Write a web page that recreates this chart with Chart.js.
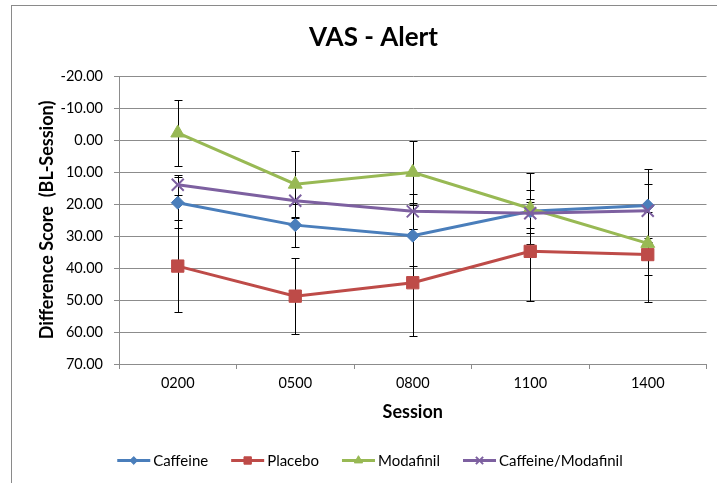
<!DOCTYPE html>
<html><head><meta charset="utf-8">
<script src="https://cdn.jsdelivr.net/npm/chart.js@4/dist/chart.umd.min.js"></script>
<style>html,body{margin:0;padding:0;background:#fff;overflow:hidden}#wrap{position:absolute;left:0;top:0;width:717px;height:483px}</style>
</head><body><div id="wrap"><canvas id="c" width="717" height="483"></canvas></div>
<script>
const sessions = ['0200', '0500', '0800', '1100', '1400'];
const caffeine = [19.6, 26.6, 29.9, 22.3, 20.5];
const caffeineErr = [8.0, 6.7, 9.6, 6.8, 11.4];
const placebo = [39.4, 48.8, 44.6, 34.8, 35.8];
const placeboErr = [14.5, 11.9, 16.7, 15.4, 14.8];
const modafinil = [-2.2, 13.8, 10.1, 21.4, 32.3];
const modafinilErr = [10.3, 10.5, 9.7, 11.1, 9.9];
const cafMod = [14.0, 19.0, 22.3, 22.9, 22.1];
const cafModErr = [3.2, 5.1, 5.4, 4.5, 8.5];
const yTicks = [-20, -10, 0, 10, 20, 30, 40, 50, 60, 70];

const errs = [caffeineErr, placeboErr, modafinilErr, cafModErr];
const GRID = '#8c8c8c';
const FONT = 'Lato';

function marker(ctx, style, x, y, r, color, bw) {
  ctx.save();
  ctx.fillStyle = color; ctx.strokeStyle = color; ctx.lineWidth = bw;
  if (Chart.helpers && Chart.helpers.drawPoint) {
    Chart.helpers.drawPoint(ctx, {pointStyle: style, radius: r, rotation: 0, borderWidth: bw}, x, y);
  }
  ctx.restore();
}

const framePlugin = {
  id: 'frame',
  beforeDraw(chart) {
    const ctx = chart.ctx;
    ctx.save();
    ctx.fillStyle = '#fff';
    ctx.fillRect(0, 0, chart.width, chart.height);
    ctx.strokeStyle = '#8a8a8a';
    ctx.lineWidth = 1;
    ctx.strokeRect(11.5, 5.5, 760, 520);
    ctx.restore();
  }
};

const errorBarPlugin = {
  id: 'errbars',
  beforeDatasetsDraw(chart) {
    const ctx = chart.ctx, ys = chart.scales.y;
    ctx.save();
    ctx.strokeStyle = '#000';
    ctx.lineWidth = 1;
    chart.data.datasets.forEach((ds, i) => {
      const meta = chart.getDatasetMeta(i);
      ds.data.forEach((v, j) => {
        const e = errs[i][j];
        const x = Math.round(meta.data[j].x) + 0.5;
        const y1 = Math.round(ys.getPixelForValue(v - e)) + 0.5;
        const y2 = Math.round(ys.getPixelForValue(v + e)) + 0.5;
        ctx.beginPath();
        ctx.moveTo(x, y1); ctx.lineTo(x, y2);
        ctx.moveTo(x - 4, y1); ctx.lineTo(x + 4, y1);
        ctx.moveTo(x - 4, y2); ctx.lineTo(x + 4, y2);
        ctx.stroke();
      });
    });
    ctx.restore();
  }
};

const legendPlugin = {
  id: 'xlLegend',
  afterDraw(chart) {
    const ctx = chart.ctx;
    ctx.save();
    ctx.font = '15px ' + FONT;
    const lineLen = 33, textGap = 3, itemGap = 23;
    const items = chart.data.datasets.map(ds => ({ds, w: lineLen + textGap + ctx.measureText(ds.label).width}));
    const total = items.reduce((s, it) => s + it.w, 0) + itemGap * (items.length - 1);
    let x = 370 - total / 2;
    const y = 460.5;
    items.forEach(it => {
      const ds = it.ds;
      ctx.strokeStyle = ds.borderColor;
      ctx.lineWidth = 3;
      ctx.beginPath(); ctx.moveTo(x, y); ctx.lineTo(x + lineLen, y); ctx.stroke();
      marker(ctx, ds.pointStyle, x + lineLen / 2, y, ds.pointRadius * 0.6, ds.borderColor, ds.pointBorderWidth);
      ctx.fillStyle = '#000';
      ctx.textBaseline = 'middle';
      ctx.textAlign = 'left';
      ctx.fillText(ds.label, x + lineLen + textGap, y + 1);
      x += it.w + itemGap;
    });
    ctx.restore();
  }
};

function mk(label, data, color, style, r, bw, order) {
  return {label, data, borderColor: color, backgroundColor: color, pointBackgroundColor: color,
    pointBorderColor: color, pointStyle: style, pointRadius: r, pointHoverRadius: r,
    pointBorderWidth: bw, borderWidth: 3, tension: 0, order};
}

new Chart(document.getElementById('c'), {
  type: 'line',
  data: {
    labels: sessions,
    datasets: [
      mk('Caffeine', caffeine, '#4A7EBB', 'rectRot', 6.5, 1, 4),
      mk('Placebo', placebo, '#BE4B48', 'rect', 8.7, 1, 3),
      mk('Modafinil', modafinil, '#98B954', 'triangle', 8, 1, 2),
      mk('Caffeine/Modafinil', cafMod, '#7D60A0', 'crossRot', 8.5, 2, 1)
    ]
  },
  options: {
    responsive: false,
    animation: false,
    devicePixelRatio: 1,
    layout: {padding: {left: 36, right: 6, top: 10, bottom: 62}},
    plugins: {
      legend: {display: false},
      tooltip: {enabled: false},
      title: {display: true, text: 'VAS - Alert', color: '#000',
        font: {family: FONT, size: 26, weight: 'bold'}, padding: {top: 12, bottom: 22.8}}
    },
    scales: {
      x: {
        offset: true,
        afterFit: s => { s.height = 57; },
        grid: {offset: true, drawOnChartArea: false, drawTicks: true, tickLength: 5, color: GRID},
        border: {color: GRID},
        ticks: {font: {family: FONT, size: 14.5}, color: '#000', padding: 6, maxRotation: 0},
        title: {display: true, text: 'Session', color: '#000', font: {family: FONT, size: 18, weight: 'bold'}, padding: {top: 0, bottom: -2}}
      },
      y: {
        reverse: true,
        min: yTicks[0],
        max: yTicks[yTicks.length - 1],
        afterBuildTicks: s => { s.ticks = yTicks.map(v => ({value: v})); },
        afterFit: s => { s.width = 83; },
        grid: {color: GRID, lineWidth: 1, drawTicks: true, tickLength: 5},
        border: {color: GRID},
        ticks: {callback: v => Number(v).toFixed(2), font: {family: FONT, size: 14.5}, color: '#000', padding: 11},
        title: {display: true, text: 'Difference Score  (BL-Session)', color: '#000',
          font: {family: FONT, size: 18, weight: 'bold'}, padding: 0}
      }
    }
  },
  plugins: [framePlugin, errorBarPlugin, legendPlugin]
});
</script></body></html>
